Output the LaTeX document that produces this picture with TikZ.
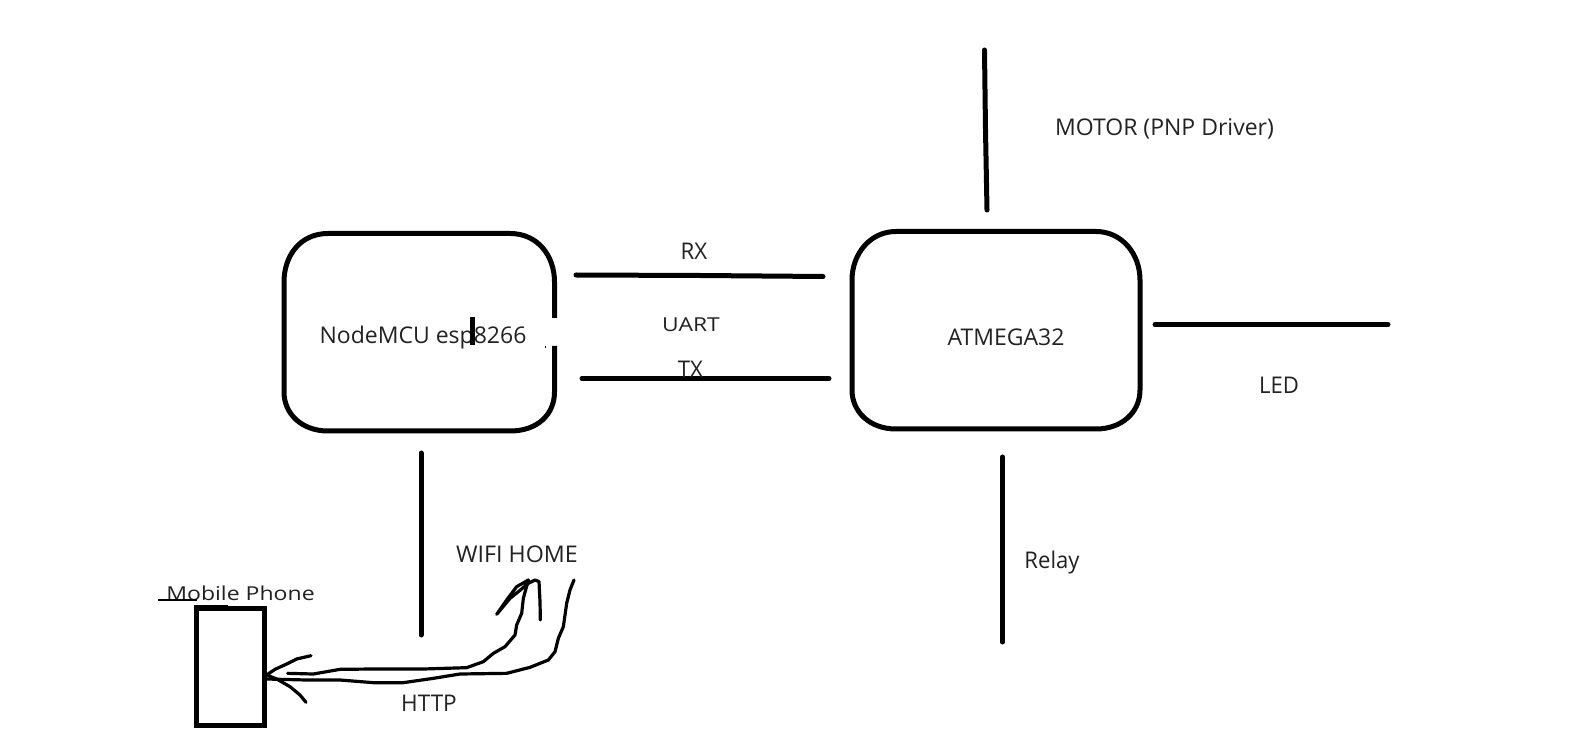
\documentclass[tikz,border=0pt]{standalone}
\usepackage{fontspec}
\setmainfont{Open Sans}
\usetikzlibrary{calc}
\definecolor{ink}{HTML}{222222}
\tikzset{
  lbl/.style={text=ink,inner sep=0pt,outer sep=0pt,anchor=base,font=\fontsize{11.5}{13}\selectfont},
  wide/.style={lbl,font=\fontsize{9.6}{12}\selectfont},
  heavy/.style={line width=2.5pt,line cap=round,line join=round,black},
  scrib/.style={line width=1.6pt,line cap=round,line join=round,black},
  frame/.style={line width=2.5pt,black}
}
\begin{document}
\begin{tikzpicture}[x=0.5pt,y=-0.5pt]
\useasboundingbox (0,0) rectangle (1596,748);
\fill[white] (0,0) rectangle (1596,748);
% rounded blocks
\draw[frame] (554.5,318) -- (554.5,282) .. controls (554.5,256) and (538,233.5) .. (510,233.5) -- (328,233.5) .. controls (300,233.5) and (284,256) .. (284,282) -- (284,392) .. controls (284,414) and (302,431) .. (328,431) -- (510,431) .. controls (538,431) and (554.5,414) .. (554.5,392) -- (554.5,346);
\node[lbl] (nodemcu) at (423,344) {NodeMCU esp8266};
\fill[black] (469.5,317) rectangle (474.5,345);
\fill[black] (544.5,346.5) rectangle (546,348);
\draw[frame] (852,280) .. controls (852,254) and (870,231.5) .. (896,231.5) -- (1096,231.5) .. controls (1122,231.5) and (1140,254) .. (1140,280) -- (1140,390) .. controls (1140,412) and (1122,429) .. (1096,429) -- (896,429) .. controls (870,429) and (852,412) .. (852,390) -- cycle;
\node[lbl] (atmega) at (1006,345.5) {ATMEGA32};
% straight connectors
\coordinate (rxa) at (576,275); \coordinate (rxm) at (700,275.5); \coordinate (rxb) at (823,276.5);
\coordinate (txa) at (582,378.5); \coordinate (txb) at (829,378.5);
\draw[heavy] (rxa) -- (rxm) -- (rxb);
\draw[heavy] (txa) -- (txb);
\node[lbl,xscale=.97] (rx) at (694,259.5) {RX};
\node[wide,xscale=1.19] (uart) at (691,332) {UART};
\node[lbl,xscale=.97] (tx) at (690.5,377.5) {TX};
\coordinate (moa) at (984.5,50); \coordinate (mob) at (985.5,130); \coordinate (moc) at (987,210);
\draw[heavy] (moa) -- (mob) -- (moc);
\node[lbl] (motor) at (1164.5,135.5) {MOTOR (PNP Driver)};
\coordinate (leda) at (1155,324.5); \coordinate (ledb) at (1388,324.5);
\draw[heavy] (leda) -- (ledb);
\node[lbl,xscale=.96] (led) at (1279,394) {LED};
\coordinate (rla) at (1002.5,457); \coordinate (rlb) at (1002.5,642);
\draw[heavy] (rla) -- (rlb);
\node[lbl,xscale=.96] (relay) at (1052,568.5) {Relay};
\coordinate (wfa) at (421,453); \coordinate (wfb) at (421,635);
\draw[heavy] (wfa) -- (wfb);
\node[lbl,xscale=1.01] (wifi) at (517,562.5) {WIFI HOME};
\node[lbl,xscale=.98] (http) at (429,711.5) {HTTP};
% phone
\node[draw,line width=2.7pt,black,minimum width=34pt,minimum height=58.5pt,inner sep=0pt] (phone) at (230.5,667) {};
\node[wide,xscale=1.2] (mobile) at (240.5,600) {Mobile Phone};
\draw[line width=1pt,black] (158,600) -- (197,600);
\draw[line width=1pt,black] (194,605.5) -- (228,605.5);
% hand drawn scribbles (zoom coordinates)
\begin{scope}[shift={(140,530)},x=0.16667pt,y=-0.16667pt]
\draw[scrib] (443,430) -- (520,432) -- (560,425) -- (600,418) -- (700,417) -- (850,417) -- (980,413) -- (1030,395) -- (1060,370) -- (1095,350) -- (1125,315) -- (1130,285) -- (1145,250) -- (1150,205) -- (1165,150);
\draw[scrib] (1165,150) -- (1130,170) -- (1100,210) -- (1070,253) -- (1110,205) -- (1135,185) -- (1165,160) -- (1185,150) -- (1197,155) -- (1200,215) -- (1201,270);
\draw[scrib] (380,447) -- (500,450) -- (600,450) -- (700,458) -- (790,458) -- (880,445) -- (960,432) -- (1100,430) -- (1170,412) -- (1225,390) -- (1245,365) -- (1255,325) -- (1270,290) -- (1280,220) -- (1290,180) -- (1302,150);
\draw[scrib] (513,377) -- (470,387) -- (440,402) -- (405,418) -- (380,435);
\draw[scrib] (380,435) -- (410,447) -- (450,470) -- (480,495) -- (498,517);
\end{scope}
\end{tikzpicture}
\end{document}
